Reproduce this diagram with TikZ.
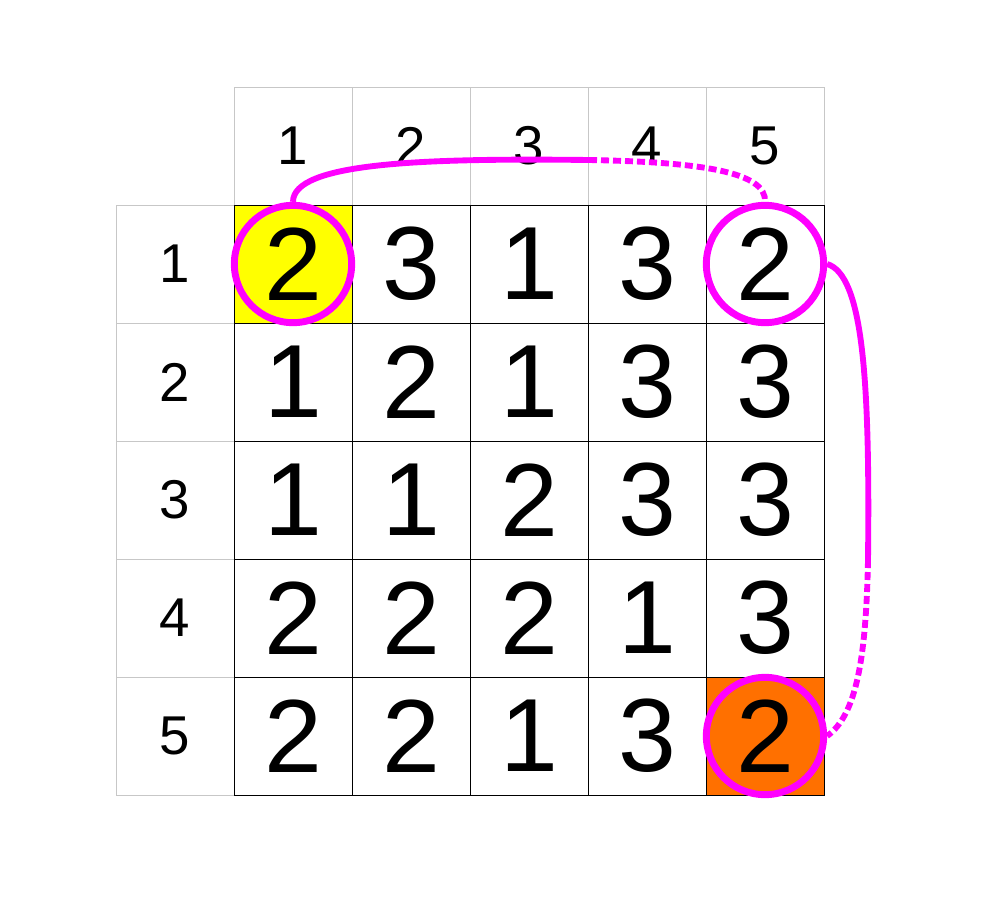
\documentclass[tikz,border=0pt]{standalone}
\usepackage{fontspec}
\setmainfont{Liberation Sans}
\definecolor{orangecell}{RGB}{255,112,0}
\definecolor{yellowcell}{RGB}{255,255,0}
\definecolor{ringpink}{RGB}{255,0,255}

\begin{document}
\begin{tikzpicture}[x=0.75pt,y=-0.75pt,
              cell/.style={draw=black,line width=0.6pt,minimum size=88.5pt,inner sep=0pt,font=\fontsize{78}{80}\selectfont},
              head/.style={draw=black!22,line width=0.6pt,minimum size=88.5pt,inner sep=0pt,font=\fontsize{41}{44}\selectfont},
              cell 1-1/.style={fill=yellowcell},
              cell 5-5/.style={fill=orangecell},
              ring/.style={circle,draw=ringpink,line width=5.2pt,minimum size=88pt,inner sep=0pt},
              link/.style={draw=ringpink,line width=4.4pt},
              dotlink/.style={link,dash pattern=on 6pt off 3pt}
            ]
              \useasboundingbox (0,0) rectangle (1002,914);
              % headers
              \foreach \i in {1,...,5} {
                \node[head] (top-\i) at (175+118*\i,146) {\i};
                \node[head] (side-\i) at (175,146+118*\i) {\i};
              }
              % grid
              \foreach \r/\vals in {1/{2,3,1,3,2},2/{1,2,1,3,3},3/{1,1,2,3,3},4/{2,2,2,1,3},5/{2,2,1,3,2}} {
                \foreach \v [count=\c] in \vals {
                  \node[cell, cell \r-\c/.try] (c-\r-\c) at (175+118*\c,146+118*\r) {\v};
                }
              }
              \node[ring] (ring1) at (c-1-1) {};
              \node[ring] (ring2) at (c-1-5) {};
              \node[ring] (ring3) at (c-5-5) {};
              \coordinate (topbend) at (589,160);
              \coordinate (sidebend) at (868,560);
              \draw[link] (ring1.north) .. controls +(0,-39) and +(-169,-2) .. (topbend);
              \draw[dotlink] (topbend) .. controls +(111,2) and +(2,-30) .. (ring2.north);
              \draw[link] (ring2.east) .. controls +(36,11) and +(2,-180) .. (sidebend);
              \draw[dotlink] (sidebend) .. controls +(-2,100) and +(29,-21) .. (ring3.east);
            \end{tikzpicture}
\end{document}
